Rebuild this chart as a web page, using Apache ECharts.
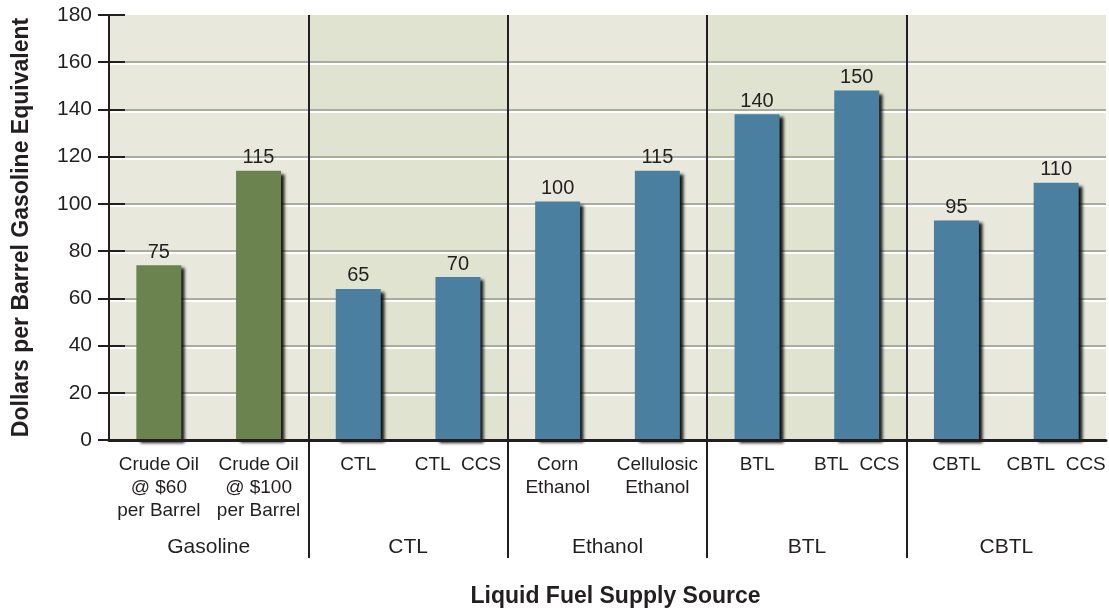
<!DOCTYPE html>
<html>
<head>
<meta charset="utf-8">
<script src="https://cdn.jsdelivr.net/npm/echarts@6/dist/echarts.min.js"></script>
<style>
  html, body { margin: 0; background: #fff; }
  #chart { width: 1109px; height: 609px; }
</style>
</head>
<body>
<div id="chart"></div>
<script>
var categories = [
  'Crude Oil\n@ $60\nper Barrel', 'Crude Oil\n@ $100\nper Barrel',
  'CTL', 'CTL  CCS',
  'Corn\nEthanol', 'Cellulosic\nEthanol',
  'BTL', 'BTL  CCS',
  'CBTL', 'CBTL  CCS'
];
// bar heights as drawn, and the numbers printed above them
var values = [74, 114, 64, 69, 101, 114, 138, 148, 93, 109];
var valueLabels = ['75', '115', '65', '70', '100', '115', '140', '150', '95', '110'];
var groups = ['Gasoline', 'CTL', 'Ethanol', 'BTL', 'CBTL'];
var groupBreaks = [1, 2, 3, 4];
var yMin = 0, yMax = 180, yStep = 20;

var font = '"Liberation Sans", Arial, sans-serif';
var ink = '#231f20';

var option = {
  animation: false,
  textStyle: { fontFamily: font },
  grid: { left: 109, right: 3, top: 15, bottom: 169, outerBoundsMode: 'none' },
  xAxis: [
    {
      type: 'category',
      data: categories,
      axisLine: { lineStyle: { color: ink, width: 3 } },
      axisTick: { show: false },
      axisLabel: { interval: 0, fontSize: 19, lineHeight: 23, color: ink, margin: 13, fontFamily: font },
      name: 'Liquid Fuel Supply Source',
      nameLocation: 'middle',
      nameGap: 145,
      nameTextStyle: { fontSize: 23, fontWeight: 'bold', color: ink, fontFamily: font, padding: [0, 0, 0, 16] },
      z: 3
    },
    {
      type: 'category',
      data: groups,
      position: 'bottom',
      axisLine: { show: false },
      axisTick: { show: false },
      axisLabel: { interval: 0, fontSize: 21, color: ink, margin: 97, fontFamily: font },
      splitArea: { show: true, interval: 0, areaStyle: { color: ['#e8e9dc', '#dfe3cf'] } },
      z: -1
    },
    {
      type: 'value',
      min: 0,
      max: groups.length,
      position: 'bottom',
      axisLine: { show: false },
      axisTick: { show: true, customValues: groupBreaks, inside: false, length: 118, lineStyle: { color: ink, width: 2 } },
      axisLabel: { show: false },
      splitLine: { show: true, lineStyle: { color: ink, width: 2 } },
      z: 1
    }
  ],
  yAxis: [
    {
      type: 'value',
      min: yMin, max: yMax, interval: yStep,
      axisLine: { show: true, lineStyle: { color: ink, width: 2 } },
      axisTick: { show: true, inside: false, length: 11, lineStyle: { color: ink, width: 2 } },
      axisLabel: { fontSize: 21, color: ink, margin: 17, fontFamily: font },
      splitLine: {
        show: true, showMaxLine: false,
        lineStyle: { color: '#a8ad9c', width: 2, shadowColor: '#ffffff', shadowOffsetY: 2, shadowBlur: 0 }
      },
      name: 'Dollars per Barrel Gasoline Equivalent',
      nameLocation: 'middle',
      nameGap: 76,
      nameTextStyle: { fontSize: 23, fontWeight: 'bold', color: ink, fontFamily: font },
      z: 0
    },
    {
      type: 'value',
      min: yMin, max: yMax, interval: yStep,
      position: 'left',
      axisLine: { show: false },
      axisTick: { show: true, inside: true, length: 16, lineStyle: { color: ink, width: 2 } },
      axisLabel: { show: false },
      splitLine: { show: false },
      z: 3
    }
  ],
  series: [
    {
      type: 'bar',
      xAxisIndex: 0,
      yAxisIndex: 0,
      data: values,
      barWidth: 45,
      z: 2,
      itemStyle: {
        color: function (p) { return p.dataIndex < 2 ? '#6b834f' : '#4a7f9f'; },
        shadowColor: 'rgba(0,0,0,0.9)',
        shadowBlur: 3,
        shadowOffsetX: 4,
        shadowOffsetY: 3
      },
      label: {
        show: true,
        position: 'top',
        distance: 3,
        fontSize: 20,
        color: ink,
        fontFamily: font,
        formatter: function (p) { return valueLabels[p.dataIndex]; }
      }
    }
  ]
};

var myChart = echarts.init(document.getElementById('chart'));
myChart.setOption(option);
window.addEventListener('resize', function () {
  myChart.resize();
});
</script>
</body>
</html>
